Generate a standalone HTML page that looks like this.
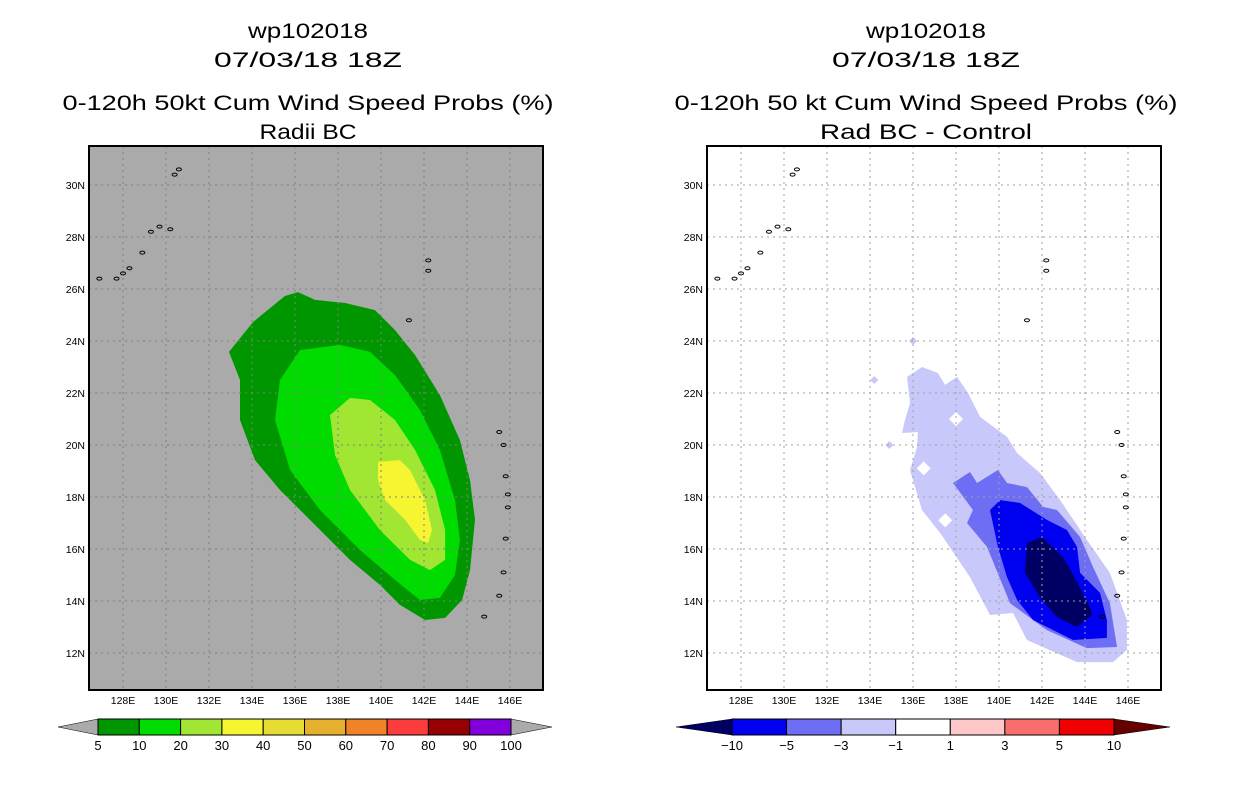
<!DOCTYPE html>
<html><head><meta charset="utf-8">
<style>
body{margin:0;background:#fff;}
svg{display:block;font-family:"Liberation Sans",sans-serif;}
</style></head>
<body>
<svg id="chart" width="1236" height="800"></svg>
<script>
// axis data
const lonTicks=[128,130,132,134,136,138,140,142,144,146];
const latTicks=[12,14,16,18,20,22,24,26,28,30];
// left panel contours (lon, lat)
const left5=[[132.93,23.58],[134.05,24.73],[135.53,25.73],[136.14,25.88],[136.93,25.58],[138.33,25.46],[139.72,25.19],[140.65,24.42],[141.58,23.46],[142.74,21.92],[143.67,20.19],[144.14,18.65],[144.37,17.12],[144.14,15.19],[143.77,14.04],[142.98,13.35],[142.05,13.27],[140.88,13.85],[139.95,14.62],[138.56,15.58],[136.70,17.12],[135.30,18.27],[134.14,19.42],[133.44,20.96],[133.44,22.5]];
const left10=[[135.30,22.5],[136.23,23.65],[138.09,23.85],[139.49,23.58],[140.65,22.69],[141.81,21.35],[142.74,19.81],[143.44,17.88],[143.67,16.35],[143.44,15.0],[142.74,14.12],[141.81,14.04],[140.65,14.81],[139.02,15.96],[137.16,17.5],[135.77,19.04],[135.07,20.96]];
const left20=[[137.63,21.15],[138.56,21.81],[139.49,21.73],[140.65,20.96],[141.58,19.81],[142.51,18.27],[142.98,16.73],[142.98,15.58],[142.28,15.19],[141.35,15.58],[139.95,16.73],[138.56,18.27],[137.86,19.62]];
const left30=[[139.86,19.35],[140.88,19.42],[141.35,19.04],[142.05,17.88],[142.37,16.73],[142.19,16.23],[141.81,16.35],[141.12,17.12],[140.19,17.88],[139.86,18.65]];
// right panel contours
const right1=[[135.72,22.62],[136.42,23.0],[137.16,22.77],[137.49,22.31],[138.05,22.62],[138.56,22.0],[139.12,21.08],[140.37,20.31],[140.84,19.69],[141.91,18.92],[142.84,17.88],[144.09,16.35],[145.16,15.08],[145.95,13.27],[145.95,12.12],[145.30,11.65],[143.63,11.65],[141.30,12.5],[140.65,13.54],[139.58,13.46],[138.65,14.92],[137.26,16.62],[136.42,17.5],[135.86,19.04],[136.19,19.92],[136.23,20.5],[135.49,20.46],[135.63,20.96],[135.86,21.62]];
const right3=[[137.86,18.54],[138.65,18.96],[138.98,18.54],[139.95,19.04],[140.37,18.54],[141.30,18.38],[142.05,17.62],[142.70,17.5],[143.77,16.46],[144.37,15.31],[145.16,13.92],[145.49,12.23],[144.09,12.19],[142.23,12.88],[140.51,13.92],[139.44,16.08],[138.51,17.0],[138.79,17.5]];
const right5=[[139.58,17.5],[140.05,17.88],[140.98,17.77],[142.23,17.12],[143.16,16.73],[143.63,16.08],[143.77,15.08],[144.70,14.31],[145.02,13.27],[145.02,12.58],[143.44,12.5],[141.58,13.27],[140.84,14.04],[140.37,14.92],[139.95,16.08]];
const right10=[[141.30,16.23],[142.0,16.46],[142.98,15.69],[143.40,15.08],[144.23,13.77],[144.33,13.46],[143.63,13.0],[142.70,13.38],[141.91,14.12],[141.21,15.08]];
const rightHoles=[[138.0,21.0],[136.5,19.1],[137.5,17.1]];
const rightBlobs=[[136.0,24.0],[134.2,22.5],[134.9,20.0]];
const islands=[[126.9,26.4],[127.7,26.4],[128.0,26.6],[128.3,26.8],[128.9,27.4],[129.3,28.2],[129.7,28.4],[130.2,28.3],[130.4,30.4],[130.6,30.6],[141.3,24.8],[142.2,26.7],[142.2,27.1],[145.5,20.5],[145.7,20.0],[145.8,18.8],[145.9,18.1],[145.9,17.6],[145.8,16.4],[145.7,15.1],[145.5,14.2],[144.8,13.4]];
// colorbars
const leftCbLabels=["5","10","20","30","40","50","60","70","80","90","100"];
const leftCbColors=["#009600","#00dc00","#a0e632","#f5f532","#e6dc32","#e6af2d","#f08228","#fa3c3c","#960000","#8200dc"];
const rightCbLabels=["-10","-5","-3","-1","1","3","5","10"];
const rightCbColors=["#0000f0","#6e6ef5","#c8c8fa","#ffffff","#ffc8c8","#fa6e6e","#f00000"];

const NS="http://www.w3.org/2000/svg";
const svg=document.getElementById('chart');
function mk(tag,attrs,parent){const e=document.createElementNS(NS,tag);for(const k in attrs)e.setAttribute(k,attrs[k]);(parent||svg).appendChild(e);return e;}
const PX0=[89,707],PW=454,PY0=146,PH=544;
function xs(p,lon){return 123+p*618+(lon-128)*21.5;}
function ys(lat){return 185+(30-lat)*26;}
function pts(p,arr){return arr.map(d=>xs(p,d[0]).toFixed(1)+','+ys(d[1]).toFixed(1)).join(' ');}

function panel(p,bg,titles,widths,layers,gridColor){
  const g=mk('g',{});
  
  
  const cx=p?926:308;
  const ty=[38,67,110,139];
  titles.forEach((t,i)=>{const e=mk('text',{x:cx,y:ty[i],'text-anchor':'middle','font-size':'21',fill:'#000',textLength:widths[i],lengthAdjust:'spacingAndGlyphs'},g);e.textContent=t;
    
    });
  const clipId='clip'+p;
  const cp=mk('clipPath',{id:clipId},g);mk('rect',{x:PX0[p],y:PY0,width:PW,height:PH},cp);
  const bgR=mk('rect',{x:PX0[p],y:PY0,width:PW,height:PH,fill:bg},g);
  
  
  const inner=mk('g',{'clip-path':'url(#'+clipId+')'},g);
  layers.forEach(l=>{const e=mk('polygon',{points:pts(p,l.d),fill:l.c},inner);
    
    });
  if(p){rightHoles.forEach((h,i)=>{const x=xs(p,h[0]),y=ys(h[1]);const e=mk('polygon',{points:`${x},${y-7} ${x+7},${y} ${x},${y+7} ${x-7},${y}`,fill:'#fff'},inner);
      
      });
    rightBlobs.forEach(h=>{const x=xs(p,h[0]),y=ys(h[1]);const e=mk('polygon',{points:`${x},${y-4} ${x+4},${y} ${x},${y+4} ${x-4},${y}`,fill:'#c8c8fa'},inner);
      
      });}
  lonTicks.forEach(l=>{const x=xs(p,l);const e=mk('line',{x1:x,x2:x,y1:PY0,y2:PY0+PH,stroke:gridColor,'stroke-width':1,'stroke-dasharray':'2,4'},inner);
    
    });
  latTicks.forEach(l=>{const y=ys(l);const e=mk('line',{x1:PX0[p],x2:PX0[p]+PW,y1:y,y2:y,stroke:gridColor,'stroke-width':1,'stroke-dasharray':'2,4'},inner);
    
    });
  islands.forEach(d=>{const e=mk('ellipse',{cx:xs(p,d[0]),cy:ys(d[1]),rx:2.5,ry:1.5,fill:'none',stroke:'#000','stroke-width':1},inner);
    
    });
  const fr=mk('rect',{x:PX0[p],y:PY0,width:PW,height:PH,fill:'none',stroke:'#000','stroke-width':2},g);
  
  
  lonTicks.forEach(l=>{const e=mk('text',{x:xs(p,l),y:704,'text-anchor':'middle','font-size':'10.5'},g);e.textContent=l+'E';
    
    });
  latTicks.forEach(l=>{const e=mk('text',{x:PX0[p]-4,y:ys(l)+4,'text-anchor':'end','font-size':'10.5'},g);e.textContent=l+'N';
    
    });
}
panel(0,'#aaaaaa',['wp102018','07/03/18 18Z','0-120h 50kt Cum Wind Speed Probs (%)','Radii BC'],[120,188,491,97],
  [{d:left5,c:'#009600',n:'contour-5pct'},{d:left10,c:'#00dc00',n:'contour-10pct'},{d:left20,c:'#a0e632',n:'contour-20pct'},{d:left30,c:'#f5f532',n:'contour-30pct'}],'#808080');
panel(1,'#ffffff',['wp102018','07/03/18 18Z','0-120h 50 kt Cum Wind Speed Probs (%)','Rad BC - Control'],[120,188,503,212],
  [{d:right1,c:'#c8c8fa',n:'contour-minus1'},{d:right3,c:'#6e6ef5',n:'contour-minus3'},{d:right5,c:'#0000f0',n:'contour-minus5'},{d:right10,c:'#000064',n:'contour-minus10'}],'#a0a0a0');

function colorbar(name,x0,x1,tl,tr,colors,labels,leftTri,rightTri){
  const g=mk('g',{});
  
  
  const y0=719,y1=735,ym=727,w=(x1-x0)/colors.length;
  mk('polygon',{points:`${tl},${ym} ${x0},${y0} ${x0},${y1}`,fill:leftTri,stroke:'#000','stroke-width':0.5},g);
  mk('polygon',{points:`${tr},${ym} ${x1},${y0} ${x1},${y1}`,fill:rightTri,stroke:'#000','stroke-width':0.5},g);
  colors.forEach((c,i)=>{const e=mk('rect',{x:x0+i*w,y:y0,width:w,height:y1-y0,fill:c,stroke:'#000','stroke-width':1},g);
    
    });
  labels.forEach((l,i)=>{const e=mk('text',{x:x0+i*w,y:750,'text-anchor':'middle','font-size':'13'},g);e.textContent=l.replace('-','\u2212');
    
    });
}
colorbar('left-colorbar',98,511,58,552,leftCbColors,leftCbLabels,'#aaaaaa','#aaaaaa');
colorbar('right-colorbar',732,1114,676,1170,rightCbColors,rightCbLabels,'#000064','#640000');
</script>
</body></html>
